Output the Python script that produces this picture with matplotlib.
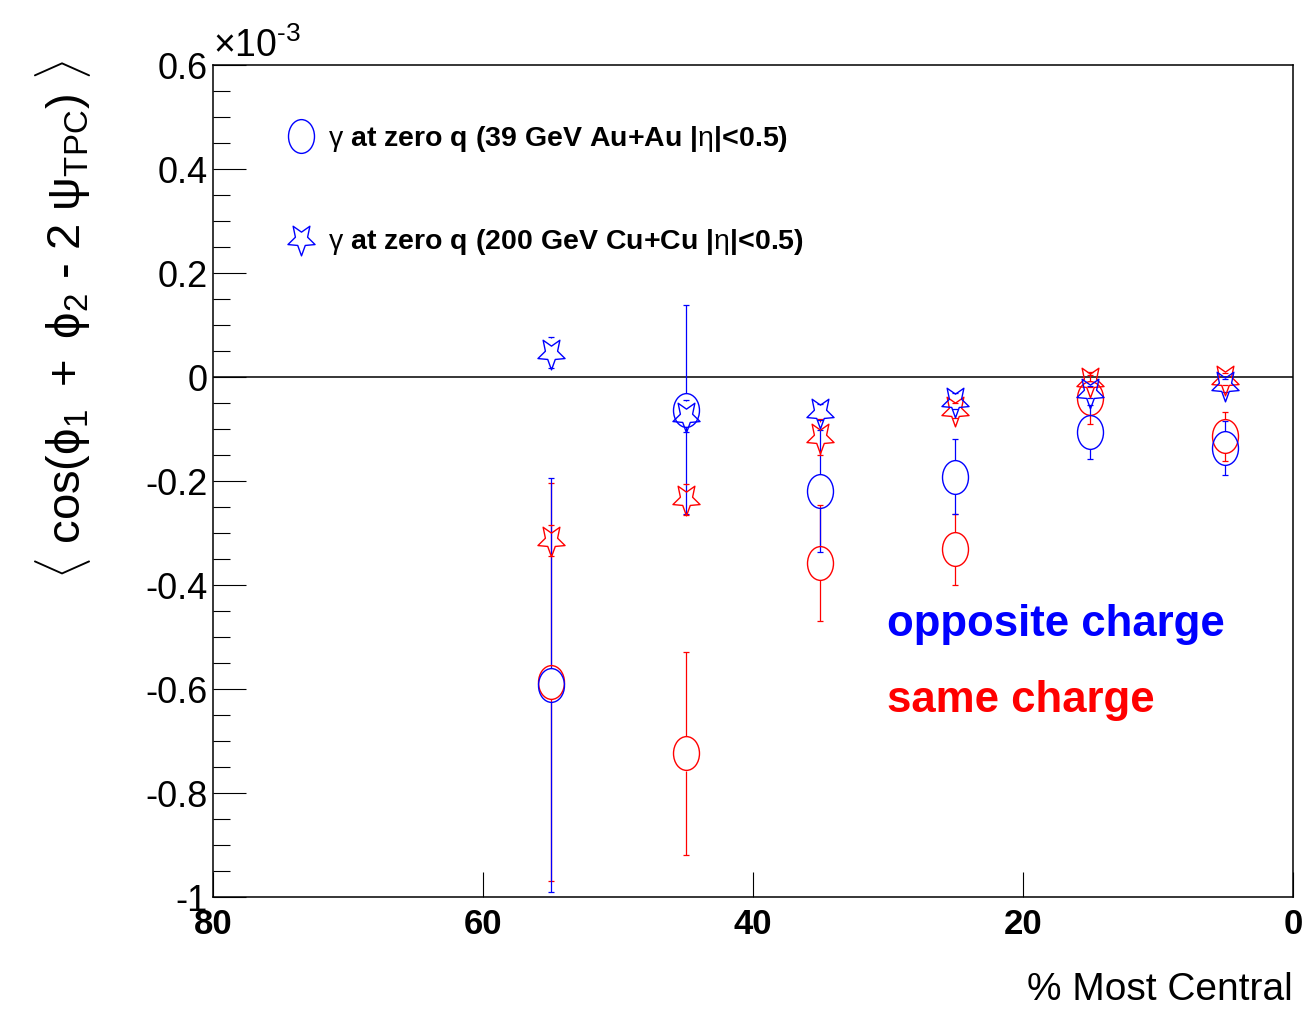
import matplotlib
matplotlib.use("Agg")
import matplotlib.pyplot as plt
from matplotlib import font_manager
from matplotlib.lines import Line2D
from matplotlib.markers import MarkerStyle
from matplotlib.path import Path
from matplotlib.transforms import Affine2D

# centrality bins (% most central)
cent = [55, 45, 35, 25, 15, 5]

# 39 GeV Au+Au (circles), values in units of 1e-3
auau_os = [-0.592, -0.063, -0.219, -0.192, -0.106, -0.136]
auau_os_err = [0.398, 0.201, 0.118, 0.072, 0.052, 0.052]
auau_ss = [-0.586, -0.724, -0.358, -0.331, -0.040, -0.114]
auau_ss_err = [0.383, 0.195, 0.112, 0.068, 0.050, 0.047]

# 200 GeV Cu+Cu (stars)
cucu_os = [0.047, -0.075, -0.067, -0.046, -0.029, -0.016]
cucu_os_err = [0.030, 0.030, 0.015, 0.015, 0.012, 0.012]
cucu_ss = [-0.314, -0.235, -0.115, -0.064, -0.008, -0.004]
cucu_ss_err = [0.030, 0.030, 0.035, 0.015, 0.012, 0.012]

yticks = [-1.0, -0.8, -0.6, -0.4, -0.2, 0.0, 0.2, 0.4, 0.6]
ytick_labels = ["-1", "-0.8", "-0.6", "-0.4", "-0.2", "0", "0.2", "0.4", "0.6"]
xticks = [80, 60, 40, 20, 0]
xtick_labels = ["80", "60", "40", "20", "0"]

legend_labels = [r"$\mathrm{\gamma}$ at zero q (39 GeV Au+Au |$\mathrm{\eta}$|<0.5)",
                 r"$\mathrm{\gamma}$ at zero q (200 GeV Cu+Cu |$\mathrm{\eta}$|<0.5)"]

installed = {f.name for f in font_manager.fontManager.ttflist}
FONT = "Liberation Sans Narrow" if "Liberation Sans Narrow" in installed else "Liberation Sans"
plt.rcParams["font.family"] = [FONT, "DejaVu Sans"]
plt.rcParams["axes.unicode_minus"] = False
plt.rcParams["mathtext.fontset"] = "custom"
plt.rcParams["mathtext.rm"] = FONT
plt.rcParams["mathtext.it"] = FONT + ":italic"
plt.rcParams["mathtext.bf"] = FONT + ":bold"

BLUE = "#0000ff"
RED = "#ff0000"

circle = MarkerStyle("o", transform=Affine2D().scale(1, 1.3))
star = MarkerStyle(Path.unit_regular_star(5, innerCircle=0.45),
                   transform=Affine2D().rotate_deg(180).scale(1, 1.15))

fig = plt.figure(figsize=(13.03, 10.13), dpi=100)
ax = fig.add_axes([0.1635, 0.1145, 0.8288, 0.8213])
ax.set_xlim(80, 0)
ax.set_ylim(-1.0, 0.6)

ax.axhline(0, color="black", lw=1.1, zorder=1)


def draw(y, err, color, marker, ms, gap):
    # ROOT style: bar stops at marker edge, small caps at the ends
    ax.errorbar(cent, y, yerr=err, fmt="none", ecolor=color, elinewidth=0,
                capsize=2.3, capthick=0.9, zorder=2)
    for xi, yi, ei in zip(cent, y, err):
        if ei > gap:
            ax.vlines(xi, yi + gap, yi + ei, color=color, lw=0.9, zorder=2)
            ax.vlines(xi, yi - ei, yi - gap, color=color, lw=0.9, zorder=2)
    ax.plot(cent, y, ls="none", marker=marker, ms=ms, mfc="none", mec=color,
            mew=1.0, zorder=3)


draw(auau_ss, auau_ss_err, RED, circle, 18.7, 0.033)
draw(auau_os, auau_os_err, BLUE, circle, 18.7, 0.033)
draw(cucu_ss, cucu_ss_err, RED, star, 20.5, 0.028)
draw(cucu_os, cucu_os_err, BLUE, star, 20.5, 0.028)

for s in ax.spines.values():
    s.set_linewidth(1.1)

ax.set_yticks(yticks)
ax.set_yticklabels(ytick_labels)
ax.set_yticks([v / 100 for v in range(-100, 61, 5)], minor=True)
ax.set_xticks(xticks)
ax.set_xticklabels(xtick_labels, fontweight="bold")
ax.tick_params(axis="y", which="major", direction="in", length=23.5, width=0.8,
               labelsize=26, pad=4)
ax.tick_params(axis="y", which="minor", direction="in", length=12, width=0.8)
ax.tick_params(axis="x", which="major", direction="in", length=18, width=0.8,
               labelsize=25, pad=8)

ax.text(0.0, 1.0, r"$\times10^{\text{-}3}$", transform=ax.transAxes, fontsize=27,
        ha="left", va="bottom")

ax.set_xlabel("% Most Central", fontsize=28, loc="right", labelpad=22)

fig.text(0.048, 0.94,
         r"$\langle\ \cos(\mathrm{\phi}_{1}\ +\ \mathrm{\phi}_{2}\ \text{-}\ 2\ \mathrm{\psi}_{\mathrm{TPC}})\ \rangle$",
         rotation=90, ha="center", va="top", fontsize=34)

handles = [Line2D([], [], ls="none", marker=circle, ms=18.7, mfc="none", mec=BLUE, mew=1.0),
           Line2D([], [], ls="none", marker=star, ms=20.5, mfc="none", mec=BLUE, mew=1.0)]
ax.legend(handles, legend_labels, loc="upper left", bbox_to_anchor=(0.066, 0.929),
          frameon=False, prop={"size": 20.5, "weight": "bold"}, handlelength=1.2,
          handletextpad=0.35, labelspacing=2.55, borderpad=0, borderaxespad=0)

ax.text(0.624, 0.328, "opposite charge", transform=ax.transAxes, color=BLUE,
        fontsize=31.5, fontweight="bold", ha="left", va="center")
ax.text(0.624, 0.236, "same charge", transform=ax.transAxes, color=RED,
        fontsize=31.5, fontweight="bold", ha="left", va="center")

fig.savefig("out.png", dpi=100)
